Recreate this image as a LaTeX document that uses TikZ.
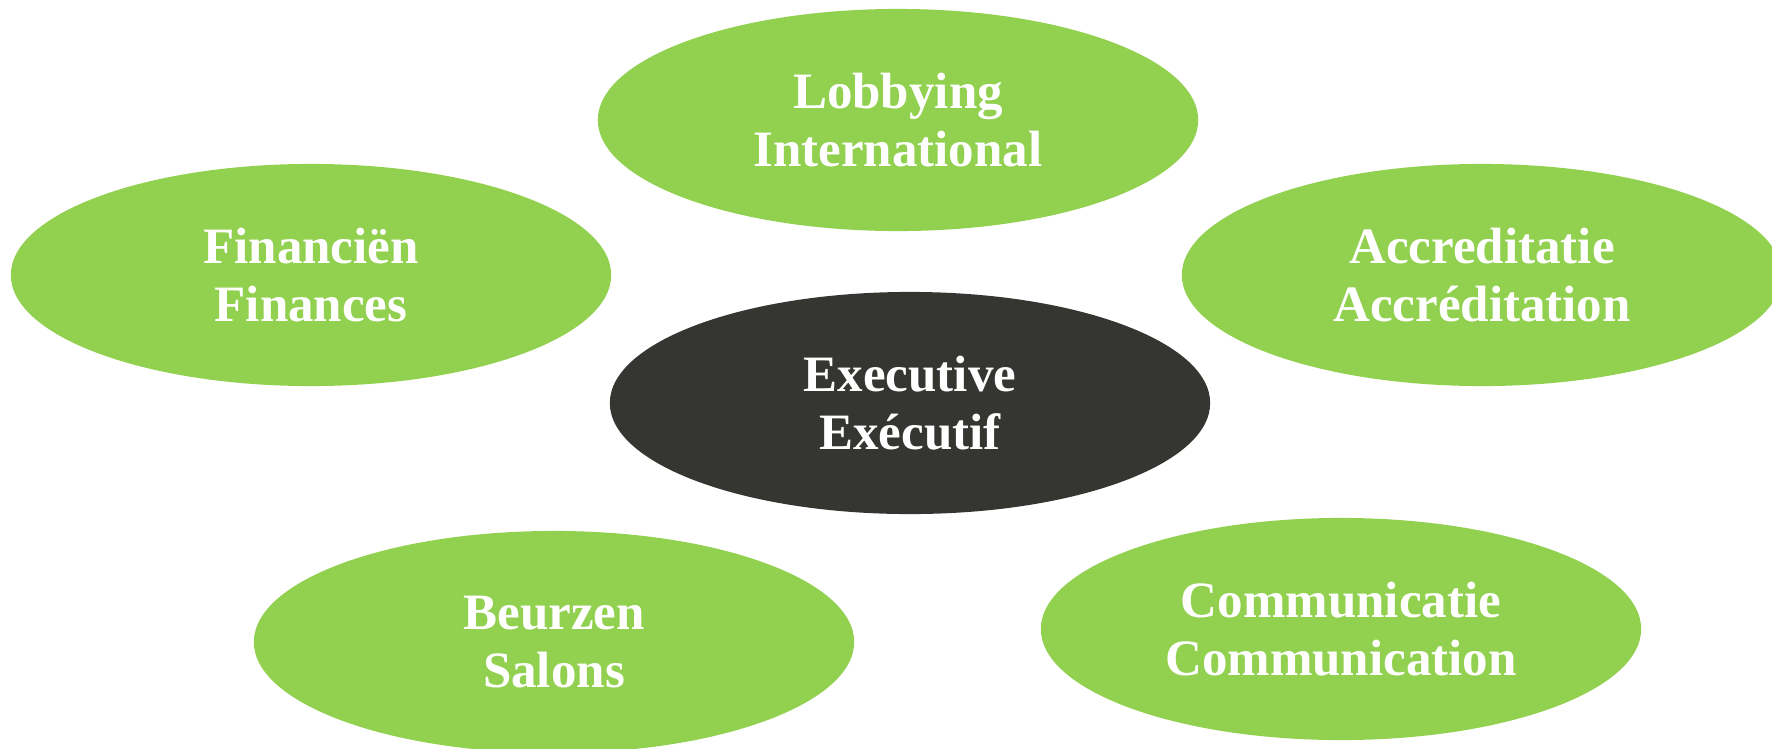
\documentclass[tikz,border=0pt]{standalone}
\usepackage{fontspec}
\setmainfont{Liberation Serif}
\usepackage{xcolor}
\usepackage{tikz}
\usetikzlibrary{shapes.geometric}
\definecolor{leafgreen}{HTML}{92D050}
\definecolor{coal}{HTML}{353532}

\begin{document}
\begin{tikzpicture}[x=0.01cm,y=-0.01cm]
	\tikzstyle{every bubble}=[ellipse, draw=none, text=white, align=center, minimum width=6cm, minimum height=2.22cm, inner sep=0pt, font=\fontsize{14.5}{16.5}\selectfont\bfseries]
	\tikzstyle{bubble}=[every bubble, fill=leafgreen]
	\tikzstyle{core}=[every bubble, fill=coal]
	\useasboundingbox (0,0) rectangle (1772,748);
	\begin{scope}
		\clip (0,0) rectangle (1772,748);
		\node[bubble] (lobby) at (898,120) {Lobbying\\International};
		\node[bubble] (fin) at (311,275) {Financiën\\Finances};
		\node[bubble] (accr) at (1482,275) {Accreditatie\\Accréditation};
		\node[core] (exec) at (910,403) {Executive\\Exécutif};
		\node[bubble] (beurs) at (554,642) {Beurzen\\Salons};
		\node[bubble] (comm) at (1341,629) {Communicatie\\Communication};
	\end{scope}
\end{tikzpicture}
\end{document}
